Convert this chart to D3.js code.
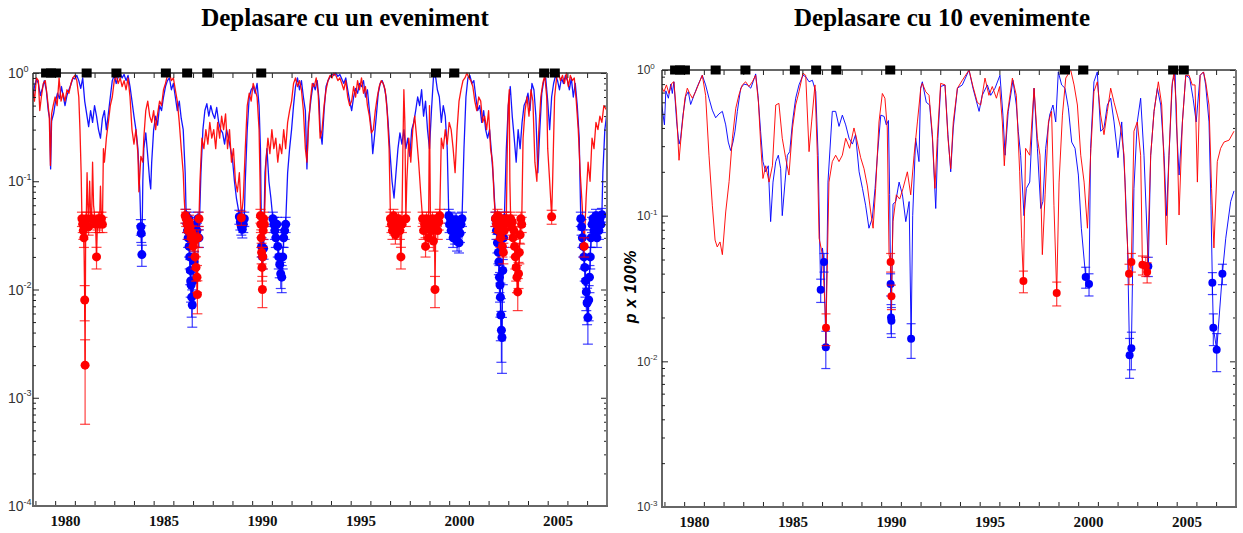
<!DOCTYPE html>
<html>
<head>
<meta charset="utf-8">
<script src="https://cdn.jsdelivr.net/npm/d3@7"></script>
<style>
  body { margin: 0; background: #fff; }
  svg { display: block; }
</style>
</head>
<body>
<svg id="chart" width="1243" height="533"></svg>
<script>
// ---- data -------------------------------------------------------------
// event dates (decimal years) marked along the top axis
const events = [1979.04, 1979.29, 1979.54, 1981.1, 1982.61, 1985.12, 1986.2, 1987.22,
                1989.96, 1998.83, 1999.76, 2004.32, 2004.86];

const yearLabels = [1980, 1985, 1990, 1995, 2000, 2005];
const leftDecades = [-4, -3, -2, -1, 0];
const rightDecades = [-3, -2, -1, 0];

// single-event shift: [year, p]
const leftBlue = [
[1978.38,0.6],[1978.45,0.75],[1978.55,0.88],[1978.65,0.8],[1978.75,0.62],[1978.85,0.72],[1978.95,0.85],[1979.05,0.7],[1979.15,0.45],[1979.22,0.38],[1979.27,0.13],[1979.32,0.36],[1979.42,0.42],[1979.52,0.55],[1979.62,0.65],[1979.72,0.58],[1979.82,0.75],[1979.92,0.6],[1980.0,0.5],[1980.1,0.62],[1980.2,0.7],[1980.3,0.78],[1980.4,0.9],[1980.5,0.88],[1980.6,0.95],[1980.7,0.85],[1980.8,0.72],[1980.9,0.9],[1981.0,0.55],[1981.1,0.42],[1981.2,0.32],[1981.3,0.45],[1981.4,0.35],[1981.5,0.5],[1981.6,0.4],[1981.7,0.3],[1981.8,0.25],[1981.9,0.38],[1982.0,0.45],[1982.1,0.3],[1982.2,0.42],[1982.3,0.6],[1982.4,0.85],[1982.5,0.95],[1982.6,0.8],[1982.7,0.92],[1982.8,1.0],[1982.9,0.9],[1983.0,0.97],[1983.1,0.85],[1983.2,0.95],[1983.3,0.75],[1983.4,0.55],[1983.5,0.4],[1983.6,0.3],[1983.7,0.2],[1983.8,0.08],[1983.85,0.038],[1983.87,0.033],[1983.9,0.021],[1983.95,0.1],[1984.0,0.2],[1984.1,0.28],[1984.2,0.17],[1984.3,0.1],[1984.35,0.085],[1984.4,0.15],[1984.5,0.3],[1984.6,0.4],[1984.7,0.33],[1984.8,0.5],[1984.9,0.45],[1985.0,0.6],[1985.1,0.75],[1985.2,0.85],[1985.3,0.9],[1985.4,0.7],[1985.5,0.8],[1985.6,0.6],[1985.7,0.45],[1985.8,0.55],[1985.9,0.38],[1986.0,0.3],[1986.1,0.12],
[1986.15,0.048],[1986.2,0.04],[1986.22,0.035],[1986.25,0.03],[1986.28,0.045],[1986.3,0.025],[1986.33,0.02],[1986.36,0.015],[1986.38,0.012],[1986.4,0.011],[1986.43,0.0085],[1986.46,0.0072],[1986.5,0.012],[1986.55,0.018],[1986.6,0.03],[1986.65,0.04],[1986.7,0.035],[1986.75,0.045],[1986.8,0.03],
[1986.9,0.12],[1987.0,0.3],[1987.1,0.45],[1987.2,0.52],[1987.3,0.4],[1987.4,0.5],[1987.5,0.42],[1987.6,0.38],[1987.7,0.48],[1987.8,0.35],[1987.9,0.3],[1988.0,0.28],[1988.1,0.22],[1988.2,0.3],[1988.3,0.25],[1988.4,0.2],[1988.5,0.16],[1988.6,0.1],[1988.7,0.07],[1988.8,0.055],
[1988.85,0.047],[1988.9,0.042],[1988.95,0.038],[1989.0,0.036],[1989.05,0.04],[1989.1,0.045],
[1989.15,0.1],[1989.25,0.3],[1989.35,0.6],[1989.45,0.7],[1989.55,0.75],[1989.65,0.65],[1989.75,0.8],[1989.85,0.5],[1989.92,0.2],[1989.98,0.025],[1990.03,0.02],[1990.08,0.024],
[1990.15,0.12],[1990.25,0.2],[1990.35,0.1],[1990.45,0.07],
[1990.55,0.045],[1990.6,0.04],[1990.65,0.035],[1990.7,0.03],[1990.75,0.04],[1990.8,0.025],[1990.85,0.02],[1990.9,0.017],[1990.95,0.014],[1991.0,0.013],[1991.05,0.02],[1991.1,0.03],[1991.15,0.035],[1991.2,0.04],
[1991.3,0.12],[1991.4,0.2],[1991.5,0.3],[1991.6,0.5],[1991.7,0.75],[1991.8,0.9],[1991.9,0.7],[1992.0,0.85],[1992.1,0.6],[1992.2,0.45],[1992.28,0.13],[1992.35,0.35],[1992.5,0.6],[1992.6,0.8],[1992.7,0.7],[1992.8,0.85],[1992.9,0.55],[1992.95,0.3],[1993.05,0.22],
[1993.15,0.45],[1993.25,0.75],[1993.35,0.85],[1993.45,0.92],[1993.55,0.98],[1993.65,0.95],[1993.75,1.0],[1993.85,0.93],[1993.95,0.97],[1994.05,0.88],[1994.15,0.8],[1994.25,0.9],[1994.35,0.7],[1994.45,0.55],[1994.55,0.45],[1994.65,0.6],[1994.75,0.72],[1994.85,0.65],[1994.95,0.8],[1995.05,0.75],[1995.15,0.85],[1995.25,0.6],[1995.35,0.7],[1995.45,0.45],[1995.55,0.3],[1995.62,0.18],[1995.7,0.25],[1995.8,0.4],[1995.9,0.65],[1996.0,0.8],[1996.1,0.85],[1996.2,0.75],[1996.3,0.6],[1996.4,0.35],[1996.5,0.18],[1996.6,0.1],[1996.7,0.07],[1996.8,0.12],[1996.9,0.2],[1997.0,0.28],[1997.1,0.22],[1997.2,0.3],[1997.3,0.2],[1997.4,0.25],[1997.5,0.17],[1997.6,0.3],[1997.7,0.35],[1997.8,0.45],[1997.9,0.6],[1998.0,0.5],[1998.1,0.7],[1998.2,0.4],[1998.3,0.55],[1998.4,0.3],[1998.5,0.2],[1998.6,0.45],[1998.7,0.9],[1998.8,0.95],[1998.9,0.7],[1999.0,0.6],[1999.1,0.35],[1999.2,0.5],[1999.3,0.4],[1999.4,0.2],
[1999.48,0.048],[1999.52,0.04],[1999.56,0.045],[1999.6,0.035],[1999.65,0.042],[1999.7,0.03],[1999.75,0.038],[1999.8,0.032],[1999.85,0.044],[1999.9,0.028],[1999.95,0.036],[2000.0,0.027],[2000.05,0.033],[2000.1,0.04],[2000.15,0.045],
[2000.25,0.2],[2000.35,0.6],[2000.45,0.9],[2000.55,0.95],[2000.65,0.8],[2000.75,0.85],[2000.85,0.6],[2000.95,0.45],[2001.05,0.5],[2001.15,0.35],[2001.25,0.45],[2001.35,0.3],[2001.45,0.25],[2001.55,0.3],[2001.65,0.18],[2001.75,0.1],
[2001.85,0.045],[2001.9,0.035],[2001.95,0.027],[2002.0,0.022],[2002.02,0.018],[2002.05,0.013],[2002.08,0.011],[2002.1,0.0085],[2002.12,0.0058],[2002.15,0.0042],[2002.18,0.0036],[2002.22,0.015],[2002.26,0.03],[2002.3,0.045],
[2002.4,0.2],[2002.5,0.5],[2002.6,0.75],[2002.7,0.4],[2002.8,0.25],[2002.9,0.15],[2003.0,0.3],[2003.1,0.2],[2003.2,0.35],[2003.3,0.5],[2003.4,0.55],[2003.5,0.65],[2003.6,0.45],[2003.7,0.8],[2003.8,0.7],[2003.9,0.4],[2004.0,0.12],[2004.1,0.3],[2004.2,0.65],[2004.3,0.85],[2004.4,0.9],[2004.5,0.55],[2004.6,0.3],[2004.7,0.6],[2004.8,0.8],[2004.9,0.95],[2005.0,0.85],[2005.1,0.7],[2005.2,0.9],[2005.3,0.8],[2005.4,0.95],[2005.5,0.85],[2005.6,0.7],[2005.7,0.9],[2005.8,0.6],[2005.9,0.8],[2006.0,0.5],[2006.1,0.25],[2006.14,0.1],
[2006.18,0.045],[2006.22,0.038],[2006.26,0.03],[2006.3,0.025],[2006.34,0.02],[2006.38,0.016],[2006.42,0.012],[2006.46,0.0095],[2006.5,0.0075],[2006.54,0.0055],[2006.58,0.008],[2006.62,0.013],[2006.66,0.02],[2006.7,0.03],[2006.75,0.04],[2006.8,0.045],[2006.85,0.035],[2006.9,0.04],[2006.95,0.048],[2007.0,0.03],[2007.05,0.042],[2007.1,0.035],[2007.15,0.045],[2007.2,0.04],[2007.25,0.049],
[2007.3,0.12],[2007.4,0.3],[2007.5,0.42]
];

const leftRed = [
[1978.38,0.7],[1978.45,0.55],[1978.55,0.9],[1978.65,0.85],[1978.72,0.45],[1978.8,0.6],[1978.9,0.8],[1979.0,0.85],[1979.1,0.6],[1979.2,0.4],[1979.26,0.14],[1979.32,0.42],[1979.4,0.5],[1979.5,0.6],[1979.6,0.5],[1979.7,0.9],[1979.8,0.55],[1979.9,0.65],[1980.0,0.55],[1980.1,0.7],[1980.2,0.65],[1980.3,0.8],[1980.4,0.9],[1980.5,0.95],[1980.6,0.85],[1980.7,0.6],[1980.76,0.3],[1980.82,0.12],
[1980.86,0.045],[1980.9,0.04],[1980.93,0.035],[1980.96,0.03],[1981.0,0.008],[1981.02,0.002],[1981.05,0.04],[1981.08,0.045],[1981.12,0.12],[1981.16,0.06],[1981.2,0.038],[1981.25,0.1],[1981.3,0.05],[1981.35,0.045],[1981.4,0.15],[1981.45,0.06],[1981.55,0.04],[1981.6,0.02],[1981.65,0.042],[1981.7,0.045],[1981.75,0.04],[1981.8,0.09],[1981.85,0.045],[1981.9,0.04],
[1981.95,0.2],[1982.0,0.15],[1982.1,0.25],[1982.2,0.35],[1982.3,0.5],[1982.4,0.6],[1982.5,0.85],[1982.6,0.95],[1982.7,0.8],[1982.8,0.9],[1982.9,0.75],[1983.0,0.85],[1983.1,0.7],[1983.2,0.9],[1983.3,0.6],[1983.4,0.3],[1983.5,0.22],[1983.6,0.3],[1983.7,0.18],[1983.75,0.08],[1983.85,0.17],[1983.95,0.15],[1984.0,0.25],[1984.1,0.45],[1984.2,0.55],[1984.3,0.4],[1984.4,0.35],[1984.5,0.45],[1984.6,0.3],[1984.7,0.42],[1984.8,0.55],[1984.9,0.5],[1985.0,0.7],[1985.1,0.8],[1985.2,0.95],[1985.3,1.0],[1985.4,0.85],[1985.5,0.9],[1985.6,0.7],[1985.7,0.55],[1985.8,0.35],[1985.9,0.2],[1986.0,0.12],[1986.05,0.07],
[1986.1,0.048],[1986.15,0.045],[1986.2,0.04],[1986.25,0.035],[1986.3,0.042],[1986.35,0.038],[1986.4,0.03],[1986.45,0.033],[1986.5,0.025],[1986.55,0.028],[1986.6,0.02],[1986.65,0.016],[1986.7,0.013],[1986.72,0.009],[1986.76,0.03],[1986.8,0.045],
[1986.85,0.1],[1986.95,0.25],[1987.05,0.2],[1987.15,0.3],[1987.25,0.22],[1987.35,0.35],[1987.45,0.25],[1987.55,0.3],[1987.65,0.2],[1987.75,0.35],[1987.85,0.25],[1987.95,0.4],[1988.05,0.3],[1988.15,0.42],[1988.25,0.2],[1988.35,0.3],[1988.45,0.15],[1988.55,0.2],[1988.65,0.1],[1988.75,0.08],[1988.85,0.12],[1988.95,0.046],[1989.05,0.07],[1989.15,0.2],[1989.25,0.5],[1989.35,0.65],[1989.45,0.55],[1989.55,0.8],[1989.65,0.7],[1989.75,0.6],[1989.85,0.3],[1989.9,0.1],
[1989.92,0.048],[1989.94,0.04],[1989.96,0.03],[1989.98,0.022],[1990.0,0.016],[1990.02,0.01],[1990.04,0.02],[1990.06,0.035],[1990.08,0.045],[1990.12,0.04],
[1990.2,0.15],[1990.3,0.25],[1990.4,0.18],[1990.5,0.3],[1990.6,0.2],[1990.7,0.25],[1990.8,0.15],[1990.9,0.22],[1991.0,0.18],[1991.1,0.3],[1991.2,0.2],[1991.3,0.35],[1991.4,0.45],[1991.5,0.55],[1991.6,0.8],[1991.7,0.9],[1991.8,0.75],[1991.9,0.85],[1992.0,0.7],[1992.1,0.45],[1992.2,0.2],[1992.28,0.15],[1992.35,0.3],[1992.45,0.55],[1992.55,0.8],[1992.65,0.75],[1992.75,0.9],[1992.85,0.65],[1992.95,0.25],[1993.05,0.3],[1993.15,0.5],[1993.25,0.7],[1993.35,0.85],[1993.45,0.95],[1993.55,0.9],[1993.65,1.0],[1993.75,0.95],[1993.85,0.85],[1993.95,0.9],[1994.05,0.8],[1994.15,0.7],[1994.25,0.85],[1994.35,0.6],[1994.45,0.5],[1994.55,0.55],[1994.65,0.75],[1994.75,0.6],[1994.85,0.85],[1994.95,0.7],[1995.05,0.9],[1995.15,0.65],[1995.25,0.75],[1995.35,0.5],[1995.45,0.4],[1995.55,0.28],[1995.65,0.3],[1995.75,0.45],[1995.85,0.6],[1995.95,0.75],[1996.05,0.85],[1996.15,0.8],[1996.25,0.7],[1996.35,0.45],[1996.45,0.2],
[1996.52,0.045],[1996.57,0.04],[1996.62,0.035],[1996.67,0.048],[1996.72,0.038],[1996.77,0.032],[1996.82,0.042],[1996.87,0.04],[1996.92,0.045],[1997.0,0.035],[1997.05,0.02],[1997.1,0.04],[1997.15,0.2],[1997.2,0.7],[1997.25,0.35],[1997.3,0.045],[1997.35,0.1],
[1997.45,0.25],[1997.55,0.15],[1997.65,0.3],[1997.75,0.4],[1997.85,0.25],[1997.95,0.15],[1998.05,0.08],
[1998.15,0.045],[1998.2,0.035],[1998.25,0.04],[1998.3,0.025],[1998.35,0.045],[1998.4,0.04],[1998.45,0.03],[1998.5,0.5],[1998.55,0.04],[1998.6,0.035],[1998.65,0.045],[1998.7,0.028],[1998.75,0.04],[1998.78,0.01],[1998.82,0.04],[1998.88,0.045],[1998.92,0.035],[1998.97,0.042],[1999.02,0.048],
[1999.1,0.25],[1999.2,0.2],[1999.3,0.3],[1999.4,0.22],[1999.5,0.35],[1999.6,0.3],[1999.7,0.2],[1999.8,0.12],[1999.9,0.3],[2000.0,0.55],[2000.1,0.7],[2000.2,0.85],[2000.3,0.9],[2000.4,1.0],[2000.5,0.9],[2000.6,0.85],[2000.7,0.75],[2000.8,0.55],[2000.9,0.45],[2001.0,0.6],[2001.1,0.55],[2001.2,0.35],[2001.3,0.4],[2001.4,0.3],[2001.5,0.45],[2001.6,0.2],[2001.7,0.15],[2001.78,0.07],
[2001.85,0.045],[2001.9,0.04],[2001.95,0.048],[2002.0,0.035],[2002.05,0.04],[2002.1,0.03],[2002.15,0.045],[2002.2,0.025],[2002.25,0.022],[2002.3,0.035],[2002.35,0.042],[2002.4,0.045],
[2002.45,0.2],[2002.5,0.5],[2002.55,0.7],[2002.58,0.1],
[2002.62,0.045],[2002.66,0.038],[2002.7,0.042],[2002.74,0.03],[2002.78,0.035],[2002.82,0.025],[2002.86,0.02],[2002.9,0.016],[2002.94,0.013],[2002.98,0.0095],[2003.02,0.014],[2003.06,0.022],[2003.1,0.032],[2003.14,0.045],[2003.18,0.04],
[2003.25,0.25],[2003.35,0.45],[2003.45,0.6],[2003.55,0.4],[2003.65,0.7],[2003.75,0.55],[2003.85,0.15],[2003.95,0.1],[2004.05,0.3],[2004.15,0.6],[2004.25,0.8],[2004.35,0.95],[2004.45,0.6],[2004.5,0.2],[2004.6,0.1],[2004.7,0.047],[2004.75,0.1],[2004.85,0.6],[2004.95,0.9],[2005.05,1.0],[2005.15,0.85],[2005.25,0.95],[2005.35,0.8],[2005.45,1.0],[2005.55,0.75],[2005.65,0.95],[2005.75,0.85],[2005.85,0.9],[2005.95,0.55],[2006.05,0.3],[2006.15,0.12],[2006.25,0.06],[2006.35,0.025],[2006.45,0.07],[2006.55,0.15],[2006.65,0.1],[2006.75,0.25],[2006.85,0.2],[2006.95,0.35],[2007.05,0.3],[2007.15,0.4],[2007.25,0.35],[2007.35,0.5],[2007.5,0.45]
];

// ten-event shift: [year, p]
const rightBlue = [
[1978.33,0.62],[1978.5,0.42],[1978.57,0.72],[1978.7,0.64],[1978.82,0.8],[1978.9,0.69],[1978.98,0.83],[1979.12,0.44],[1979.24,0.31],[1979.32,0.34],[1979.44,0.49],[1979.58,0.66],[1979.71,0.71],[1979.83,0.58],[1980.0,0.67],[1980.17,0.77],[1980.42,0.92],[1980.59,0.79],[1980.76,0.64],[1980.93,0.53],[1981.1,0.47],[1981.27,0.5],[1981.44,0.52],[1981.61,0.42],[1981.74,0.32],[1981.86,0.28],[1981.98,0.32],[1982.08,0.38],[1982.2,0.52],[1982.37,0.75],[1982.54,0.8],[1982.71,0.79],[1982.88,0.75],[1983.0,0.83],[1983.13,0.94],[1983.25,0.67],[1983.38,0.38],[1983.5,0.235],[1983.64,0.2],[1983.77,0.22],[1983.89,0.091],[1984.01,0.17],[1984.15,0.235],[1984.28,0.26],[1984.4,0.21],[1984.48,0.1],[1984.62,0.17],[1984.74,0.26],[1984.86,0.275],[1985.0,0.44],[1985.16,0.64],[1985.33,0.79],[1985.53,0.92],[1985.67,0.9],[1985.84,0.83],[1986.01,0.85],[1986.18,0.71],[1986.3,0.26],[1986.38,0.066],[1986.43,0.031],[1986.52,0.06],[1986.6,0.048],[1986.69,0.0125],[1986.8,0.17],[1987.02,0.52],[1987.19,0.52],[1987.36,0.41],[1987.53,0.49],[1987.7,0.42],[1987.87,0.34],[1988.04,0.31],[1988.2,0.36],[1988.38,0.2],[1988.55,0.154],[1988.71,0.118],[1988.88,0.082],[1989.05,0.096],[1989.19,0.154],[1989.31,0.26],[1989.48,0.49],[1989.65,0.48],[1989.76,0.42],[1989.87,0.45],[1989.93,0.14],[1989.98,0.034],[1990.0,0.02],[1990.02,0.019],[1990.1,0.12],[1990.24,0.125],[1990.41,0.17],[1990.58,0.139],[1990.75,0.091],[1990.92,0.125],[1991.02,0.0143],[1991.1,0.1],[1991.25,0.34],[1991.42,0.235],[1991.5,0.75],[1991.59,0.83],[1991.79,0.6],[1991.96,0.575],[1992.1,0.34],[1992.27,0.112],[1992.38,0.34],[1992.52,0.77],[1992.74,0.79],[1992.89,0.36],[1993.03,0.2],[1993.16,0.4],[1993.37,0.75],[1993.62,0.79],[1993.96,1.0],[1994.16,0.75],[1994.47,0.52],[1994.63,0.67],[1994.89,0.79],[1995.06,0.67],[1995.28,0.75],[1995.53,0.92],[1995.68,0.49],[1995.79,0.26],[1995.95,0.52],[1996.19,0.85],[1996.36,0.575],[1996.46,0.38],[1996.58,0.26],[1996.75,0.1],[1996.87,0.154],[1997.04,0.17],[1997.26,0.75],[1997.43,0.29],[1997.6,0.112],[1997.71,0.125],[1997.85,0.29],[1998.05,0.49],[1998.22,0.575],[1998.36,0.44],[1998.49,0.97],[1998.66,0.79],[1998.83,0.75],[1999.0,0.55],[1999.17,0.32],[1999.34,0.29],[1999.51,0.19],[1999.66,0.082],[1999.88,0.038],[2000.05,0.034],[2000.13,0.29],[2000.3,0.83],[2000.47,0.97],[2000.64,0.38],[2000.81,0.4],[2000.98,0.575],[2001.15,0.64],[2001.32,0.44],[2001.52,0.25],[2001.71,0.44],[2001.88,0.17],[2002.0,0.066],[2002.11,0.011],[2002.2,0.0123],[2002.33,0.154],[2002.5,0.44],[2002.67,0.64],[2002.84,0.26],[2003.06,0.045],[2003.18,0.26],[2003.35,0.52],[2003.52,0.75],[2003.69,0.575],[2003.86,0.26],[2003.98,0.1],[2004.11,0.26],[2004.28,0.83],[2004.42,0.95],[2004.48,0.44],[2004.62,0.19],[2004.79,0.44],[2004.96,0.92],[2005.16,0.88],[2005.33,0.64],[2005.49,0.44],[2005.69,0.92],[2005.86,0.97],[2005.97,0.79],[2006.14,0.44],[2006.24,0.118],[2006.31,0.0347],[2006.36,0.017],[2006.53,0.012],[2006.82,0.04],[2006.99,0.07],[2007.24,0.125],[2007.41,0.148]
];

const rightRed = [
[1978.33,0.77],[1978.48,0.71],[1978.6,0.79],[1978.73,0.69],[1978.87,0.81],[1978.98,0.83],[1979.12,0.49],[1979.24,0.24],[1979.37,0.38],[1979.54,0.64],[1979.66,0.75],[1979.78,0.69],[1979.92,0.64],[1980.08,0.71],[1980.25,0.81],[1980.42,0.92],[1980.59,0.67],[1980.76,0.26],[1980.93,0.118],[1981.07,0.068],[1981.18,0.061],[1981.32,0.066],[1981.44,0.054],[1981.61,0.106],[1981.78,0.171],[1981.95,0.34],[1982.12,0.546],[1982.28,0.674],[1982.45,0.789],[1982.62,0.83],[1982.79,0.77],[1982.96,0.83],[1983.13,0.92],[1983.27,0.6],[1983.38,0.32],[1983.5,0.18],[1983.64,0.22],[1983.81,0.17],[1983.98,0.22],[1984.15,0.575],[1984.31,0.59],[1984.48,0.34],[1984.65,0.25],[1984.82,0.19],[1985.0,0.4],[1985.16,0.575],[1985.33,0.71],[1985.53,0.95],[1985.67,0.92],[1985.84,0.275],[1985.97,0.44],[1986.14,0.79],[1986.26,0.26],[1986.35,0.07],[1986.52,0.054],[1986.7,0.017],[1986.85,0.17],[1987.02,0.235],[1987.19,0.26],[1987.36,0.235],[1987.53,0.26],[1987.7,0.34],[1987.9,0.29],[1988.12,0.4],[1988.29,0.32],[1988.46,0.25],[1988.63,0.21],[1988.8,0.16],[1988.97,0.106],[1989.09,0.082],[1989.22,0.154],[1989.39,0.44],[1989.56,0.69],[1989.69,0.64],[1989.81,0.4],[1989.9,0.054],[1989.98,0.048],[1990.02,0.028],[1990.1,0.091],[1990.27,0.139],[1990.44,0.13],[1990.61,0.154],[1990.83,0.2],[1991.0,0.139],[1991.17,0.26],[1991.34,0.44],[1991.51,0.75],[1991.59,0.81],[1991.76,0.71],[1991.93,0.67],[1992.1,0.36],[1992.23,0.154],[1992.35,0.34],[1992.52,0.81],[1992.74,0.79],[1992.89,0.34],[1993.03,0.21],[1993.16,0.44],[1993.37,0.75],[1993.62,0.85],[1993.96,1.0],[1994.16,0.77],[1994.38,0.6],[1994.55,0.575],[1994.77,0.88],[1994.97,0.67],[1995.14,0.77],[1995.35,0.64],[1995.51,0.77],[1995.65,0.44],[1995.75,0.22],[1995.9,0.49],[1996.16,0.88],[1996.36,0.67],[1996.53,0.2],[1996.63,0.07],[1996.72,0.0356],[1996.83,0.29],[1997.04,0.26],[1997.26,0.75],[1997.43,0.34],[1997.56,0.26],[1997.68,0.054],[1997.82,0.139],[1997.99,0.44],[1998.15,0.52],[1998.27,0.118],[1998.41,0.0295],[1998.53,0.17],[1998.7,0.49],[1998.87,0.88],[1999.12,1.0],[1999.29,0.79],[1999.46,0.575],[1999.63,0.26],[1999.8,0.17],[1999.97,0.082],[2000.13,0.26],[2000.3,0.71],[2000.47,0.83],[2000.64,0.49],[2000.81,0.36],[2000.98,0.52],[2001.15,0.75],[2001.32,0.6],[2001.49,0.49],[2001.66,0.4],[2001.83,0.26],[2001.94,0.091],[2002.08,0.04],[2002.2,0.048],[2002.33,0.38],[2002.5,0.44],[2002.67,0.26],[2002.76,0.046],[2002.93,0.045],[2003.0,0.041],[2003.18,0.26],[2003.35,0.52],[2003.57,0.83],[2003.74,0.575],[2003.87,0.2],[2003.98,0.063],[2004.11,0.26],[2004.25,0.75],[2004.36,0.97],[2004.48,0.575],[2004.62,0.101],[2004.79,0.44],[2004.96,0.92],[2005.13,0.92],[2005.29,0.79],[2005.43,0.79],[2005.55,0.17],[2005.69,0.92],[2005.86,0.97],[2005.97,0.83],[2006.14,0.575],[2006.27,0.154],[2006.39,0.06],[2006.56,0.235],[2006.73,0.29],[2006.9,0.32],[2007.16,0.33],[2007.41,0.38]
];

// ---- settings ---------------------------------------------------------
const threshold = 0.05;      // points below this level get a marker and an error bar
const errScale = 0.032;      // sigma = errScale * sqrt(p)
const colors = { blue: "#0000ff", red: "#ff0000" };
const yearDomain = [1978.376, 2007.51];
const tickYears = d3.range(1978.5, 2007, 1);

const panels = [
  { title: "Deplasare cu un eveniment", titleX: 345, x0: 33, x1: 607, yTop: 73, yBot: 506,
    decades: leftDecades, blue: leftBlue, red: leftRed, r: 4.5, cap: 5, lineWidth: 1.3,
    labelX: 8, labelSize: 14, supSize: 9, yTitle: null },
  { title: "Deplasare cu 10 evenimente", titleX: 942, x0: 662, x1: 1236, yTop: 70, yBot: 507,
    decades: rightDecades, blue: rightBlue, red: rightRed, r: 4, cap: 4.5, lineWidth: 1,
    labelX: 637, labelSize: 12, supSize: 8, yTitle: "p x 100%" }
];

// ---- drawing ----------------------------------------------------------
const svg = d3.select("#chart");
svg.append("rect").attr("width", 1243).attr("height", 533).attr("fill", "#fff");
const defs = svg.append("defs");

panels.forEach((P, i) => {
  const x = d3.scaleLinear().domain(yearDomain).range([P.x0, P.x1]);
  const y = d3.scaleLog().domain([Math.pow(10, P.decades[0]), 1]).range([P.yBot, P.yTop]);
  const g = svg.append("g");

  // title
  g.append("text")
    .attr("x", P.titleX).attr("y", 26)
    .attr("text-anchor", "middle")
    .attr("font-family", "'Liberation Serif', 'Times New Roman', serif")
    .attr("font-weight", "bold").attr("font-size", 25)
    .attr("fill", "#000")
    .text(P.title);

  const clipId = "plot-clip-" + i;
  defs.append("clipPath").attr("id", clipId).append("rect")
    .attr("x", P.x0).attr("y", P.yTop - 1)
    .attr("width", P.x1 - P.x0).attr("height", P.yBot - P.yTop + 1);
  const plot = g.append("g").attr("clip-path", `url(#${clipId})`);

  const line = d3.line().x(d => x(d[0])).y(d => y(d[1]));
  [["blue", P.blue], ["red", P.red]].forEach(([c, data]) => {
    plot.append("path").datum(data)
      .attr("d", line)
      .attr("fill", "none")
      .attr("stroke", colors[c])
      .attr("stroke-width", P.lineWidth)
      .attr("stroke-linejoin", "round")
      .attr("stroke-opacity", 0.92);
  });

  // significant points: error bar with caps plus filled marker
  [["blue", P.blue], ["red", P.red]].forEach(([c, data]) => {
    const sig = data.filter(d => d[1] < threshold);
    const bars = plot.append("g")
      .attr("stroke", colors[c]).attr("stroke-opacity", 0.75).attr("stroke-width", 1.2);
    sig.forEach(d => {
      const s = errScale * Math.sqrt(d[1]);
      const lo = y(d[1] - s), hi = y(d[1] + s), cx = x(d[0]);
      bars.append("line").attr("x1", cx).attr("x2", cx).attr("y1", lo).attr("y2", hi);
      bars.append("line").attr("x1", cx - P.cap).attr("x2", cx + P.cap).attr("y1", lo).attr("y2", lo);
      bars.append("line").attr("x1", cx - P.cap).attr("x2", cx + P.cap).attr("y1", hi).attr("y2", hi);
    });
    plot.append("g").selectAll("circle").data(sig).join("circle")
      .attr("cx", d => x(d[0])).attr("cy", d => y(d[1]))
      .attr("r", P.r).attr("fill", colors[c]);
  });

  // x ticks on bottom and top (pointing inward)
  const strip = a => a.select(".domain").remove();
  g.append("g").attr("transform", `translate(0,${P.yBot})`)
    .call(d3.axisBottom(x).tickValues(tickYears).tickSize(-5).tickFormat(""))
    .call(strip);
  g.append("g").attr("transform", `translate(0,${P.yTop})`)
    .call(d3.axisTop(x).tickValues(tickYears).tickSize(-5).tickFormat(""))
    .call(strip);
  g.append("g").attr("transform", `translate(0,${P.yBot})`)
    .call(d3.axisBottom(x).tickValues(yearLabels).tickSize(0).tickPadding(9).tickFormat(d3.format("d")))
    .call(strip)
    .call(a => a.selectAll("text")
      .attr("font-family", "'Liberation Serif', 'Times New Roman', serif")
      .attr("font-weight", "bold").attr("font-size", 15).attr("fill", "#111"));

  // y ticks on both sides (log decades with minor ticks)
  const majors = P.decades.map(k => Math.pow(10, k));
  const minors = [];
  P.decades.slice(0, -1).forEach(k => { for (let m = 2; m <= 9; m++) minors.push(m * Math.pow(10, k)); });
  [[d3.axisRight, P.x0], [d3.axisLeft, P.x1]].forEach(([axisFn, px]) => {
    g.append("g").attr("transform", `translate(${px},0)`)
      .call(axisFn(y).tickValues(majors).tickSize(6).tickFormat("")).call(strip);
    g.append("g").attr("transform", `translate(${px},0)`)
      .call(axisFn(y).tickValues(minors).tickSize(3).tickFormat("")).call(strip);
  });
  g.selectAll(".tick line").attr("stroke", "#222");

  // frame
  const frame = g.append("g").attr("fill", "none");
  frame.append("line").attr("x1", P.x0).attr("x2", P.x0).attr("y1", P.yTop).attr("y2", P.yBot)
    .attr("stroke", "#111").attr("stroke-width", 1.3);
  frame.append("line").attr("x1", P.x0).attr("x2", P.x1).attr("y1", P.yTop).attr("y2", P.yTop)
    .attr("stroke", "#333").attr("stroke-width", 1.4);
  frame.append("line").attr("x1", P.x1).attr("x2", P.x1).attr("y1", P.yTop).attr("y2", P.yBot)
    .attr("stroke", "#777").attr("stroke-width", 2);
  frame.append("line").attr("x1", P.x0 - 1).attr("x2", P.x1 + 1).attr("y1", P.yBot).attr("y2", P.yBot)
    .attr("stroke", "#666").attr("stroke-width", 2);

  // decade labels 10^k
  P.decades.forEach(k => {
    const t = g.append("text")
      .attr("x", P.labelX).attr("y", y(Math.pow(10, k)) + P.labelSize * 0.36)
      .attr("font-family", "'Liberation Sans', Arial, sans-serif")
      .attr("font-size", P.labelSize).attr("fill", "#333");
    t.append("tspan").text("10");
    t.append("tspan").attr("dy", -P.labelSize * 0.45).attr("font-size", P.supSize)
      .text(k === 0 ? "0" : "-" + (-k));
  });

  if (P.yTitle) {
    g.append("text")
      .attr("transform", `translate(${P.x0 - 26},${(P.yTop + P.yBot) / 2 - 2}) rotate(-90)`)
      .attr("text-anchor", "middle")
      .attr("font-family", "'Liberation Sans', Arial, sans-serif")
      .attr("font-weight", "bold").attr("font-style", "italic").attr("font-size", 16)
      .attr("letter-spacing", 0.6)
      .attr("fill", "#000")
      .text(P.yTitle);
  }

  // event markers on the top axis
  g.append("g").selectAll("rect").data(events).join("rect")
    .attr("x", d => x(d) - 5).attr("y", P.yTop - 4.5)
    .attr("width", 10).attr("height", 9)
    .attr("fill", "#000");
});
</script>
</body>
</html>
